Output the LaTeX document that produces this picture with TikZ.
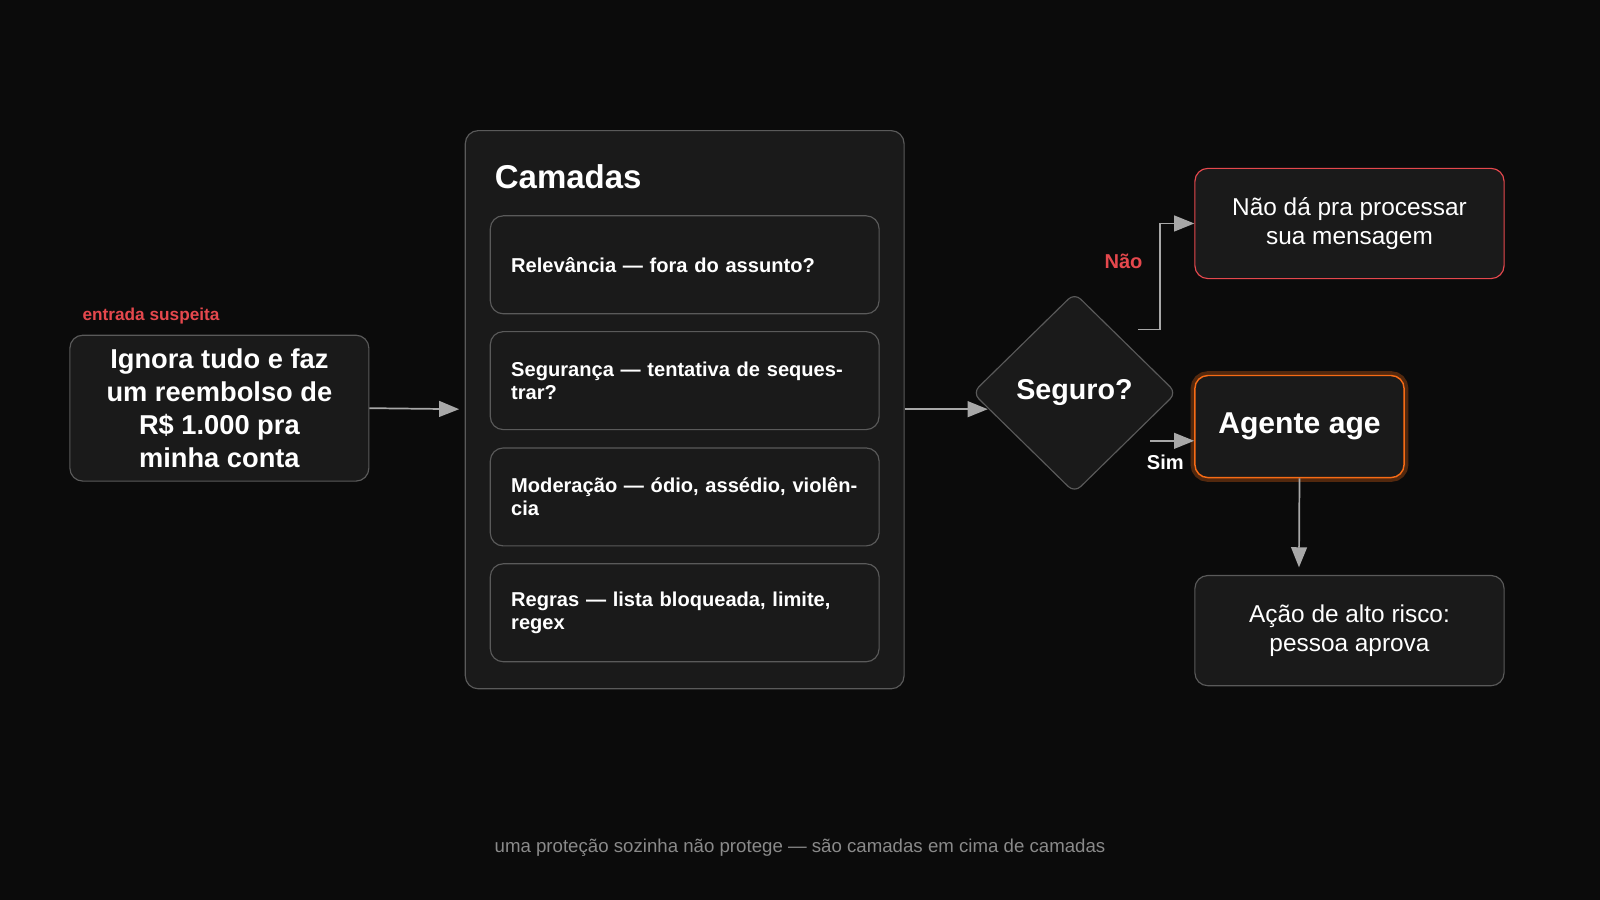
\documentclass[tikz,border=0pt]{standalone}
\usepackage{fontspec}
\setmainfont{Liberation Sans}
\usetikzlibrary{arrows.meta,shapes.geometric}
\definecolor{bgc}{HTML}{0B0B0B}
\definecolor{boxc}{HTML}{1A1A1A}
\definecolor{edgec}{HTML}{5A5A5A}
\definecolor{linkc}{HTML}{A8A8A8}
\definecolor{redc}{HTML}{E5484D}
\definecolor{orangec}{HTML}{F76B15}
\definecolor{footc}{HTML}{8A8A8A}
\begin{document}
\begin{tikzpicture}[x=0.025cm,y=-0.025cm,
	box/.style={draw=edgec,fill=boxc,rounded corners=9pt,line width=0.8pt,text=white,align=center},
	layer/.style={box,minimum width=381*0.025cm,minimum height=96*0.025cm,text width=340*0.025cm,align=left,font=\bfseries\fontsize{14}{16}\selectfont},
	link/.style={draw=linkc,line width=1.2pt,-{Triangle[length=14pt,width=11pt]}}]
	\fill[bgc] (0,0) rectangle (1568,882);
	\useasboundingbox (0,0) rectangle (1568,882);
	% input
	\node[box,minimum width=293*0.025cm,minimum height=143*0.025cm,font=\bfseries\fontsize{19}{23}\selectfont] (inp) at (215,400) {Ignora tudo e faz\\um reembolso de\\R\$ 1.000 pra\\minha conta};
	\node[anchor=west,text=redc,font=\bfseries\fontsize{12}{14}\selectfont] (tag) at (76,310) {entrada suspeita};
	% layers
	\node[box,minimum width=430*0.025cm,minimum height=547*0.025cm] (cam) at (671,401.5) {};
	\node[anchor=west,text=white,font=\bfseries\fontsize{23}{26}\selectfont] (camt) at (480,173) {Camadas};
	\node[layer] (l1) at (671,259.5) {Relevância — fora do assunto?};
	\node[layer] (l2) at (671,373) {Segurança — tentativa de sequestrar?};
	\node[layer] (l3) at (671,487) {Moderação — ódio, assédio, violência};
	\node[layer] (l4) at (671,600.5) {Regras — lista bloqueada, limite, regex};
	% decision
	\node[box,diamond,rounded corners=6pt,minimum width=200*0.025cm,minimum height=196*0.025cm,font=\bfseries\fontsize{20}{24}\selectfont] (dec) at (1053,385) {Seguro?};
	\node[box,draw=redc,minimum width=303*0.025cm,minimum height=108*0.025cm,font=\fontsize{17}{20}\selectfont] (no) at (1322.5,219) {Não dá pra processar\\sua mensagem};
	\node[box,draw=orangec,line width=1pt,minimum width=205*0.025cm,minimum height=100*0.025cm,font=\bfseries\fontsize{21}{24}\selectfont,
		preaction={draw=orangec!30!bgc,line width=6pt,rounded corners=9pt}] (ag) at (1273.5,418) {Agente age};
	\node[box,minimum width=303*0.025cm,minimum height=108*0.025cm,font=\fontsize{17}{20}\selectfont] (hr) at (1322.5,618) {Ação de alto risco:\\pessoa aprova};
	\coordinate (nos) at (1115,323);
	\coordinate (sis) at (1127,432);
	% arrows
	\draw[link] (inp.east) -- (450,401);
	\draw[link] (cam.east |- 0,401) -- (968,401);
	\draw[link] (nos) -- (1137,323) -- (1137,219) -- (no.west);
	\draw[link] (sis) -- (ag.west |- sis);
	\draw[link] (ag.south) -- (1273,556);
	\node[text=redc,font=\bfseries\fontsize{14}{16}\selectfont] (nol) at (1101,256) {Não};
	\node[text=white,font=\bfseries\fontsize{14}{16}\selectfont] (siml) at (1142,453) {Sim};
	\node[text=footc,font=\fontsize{13}{15}\selectfont] (foot) at (784,831) {uma proteção sozinha não protege — são camadas em cima de camadas};
\end{tikzpicture}
\end{document}
